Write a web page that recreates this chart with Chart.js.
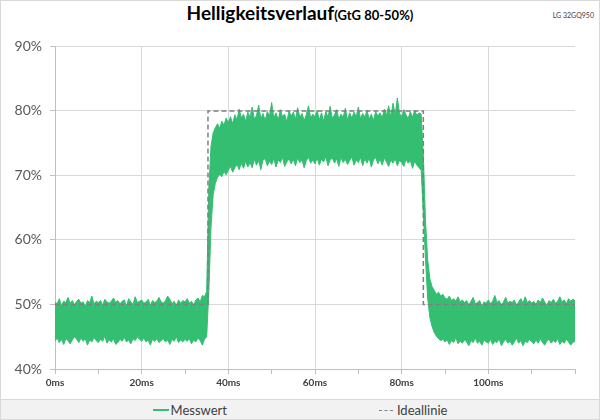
<!DOCTYPE html>
<html>
<head>
<meta charset="utf-8">
<title>Helligkeitsverlauf</title>
<script src="https://cdn.jsdelivr.net/npm/chart.js@4.4.1/dist/chart.umd.min.js"></script>
<style>
  body { margin: 0; background: #fff; font-family: Lato, "Open Sans", sans-serif; }
  #frame { position: relative; width: 600px; height: 420px; overflow: hidden; background: #fff; }
  #title { position: absolute; top: 1px; left: 0; width: 600px; text-align: center; font-weight: bold; color: #000; line-height: 24px; }
  #title .main { font-size: 19px; }
  #title .sub { font-size: 13px; }
  #model { position: absolute; top: 11px; right: 6px; font-size: 7px; color: #404040; }
  #plot { position: absolute; left: 0; top: 30px; width: 600px; height: 368px; }
  #legend { position: absolute; left: 0; bottom: 0; width: 600px; height: 20px; background: #f2f2f2; border-top: 1px solid #d9d9d9;
            display: flex; justify-content: center; align-items: center; gap: 152px; font-size: 13px; color: #404040; }
  #legend .item { display: flex; align-items: center; }
  #legend .mess { display: inline-block; width: 16px; height: 2px; background: rgb(52,190,114); margin-right: 2px; }
  #legend .ideal { display: inline-block; width: 14px; border-top: 1.5px dashed #7f7f7f; margin-right: 4px; }
  #border { position: absolute; left: 0; top: 0; right: 0; bottom: 0; border: 1px solid #d9d9d9; pointer-events: none; }
</style>
</head>
<body>
<div id="frame">
  <div id="title"><span class="main">Helligkeitsverlauf</span><span class="sub">(GtG 80-50%)</span></div>
  <div id="model">LG 32GQ950</div>
  <div id="plot"><canvas id="chart" width="600" height="368"></canvas></div>
  <div id="legend">
    <span class="item"><span class="mess"></span>Messwert</span>
    <span class="item"><span class="ideal"></span>Ideallinie</span>
  </div>
  <div id="border"></div>
</div>
<script>
// sample spacing of the measurement (ms)
const sampleStep = 0.5;

// Messwert: upper edge of the measured band, one value per 0.5 ms (0 .. 120 ms)
const messwertMax = [
  50.4, 50.1, 50.9, 49.8, 50.5, 50.3, 51.1, 50.2, 50.6, 49.9,
  50.5, 50.8, 50.2, 50.4, 49.7, 50.6, 50.3, 51.3, 50.1, 50.5,
  50.3, 50.6, 49.9, 50.8, 50.4, 50.2, 50.5, 51.0, 50.3, 50.6,
  50.1, 50.5, 50.7, 49.8, 50.9, 50.4, 50.0, 51.2, 50.3, 50.5,
  50.7, 50.2, 50.4, 50.8, 49.9, 50.6, 50.3, 50.5, 51.1, 50.4,
  50.2, 50.6, 51.3, 50.8, 50.1, 50.5, 49.8, 50.7, 50.2, 50.6,
  50.4, 50.9, 50.2, 50.5, 49.9, 50.7, 51.0, 50.4, 51.4, 51.2,
  52.0, 68.0, 74.5, 76.6, 77.4, 78.0, 77.3, 78.4, 77.8, 78.9,
  78.2, 79.1, 78.0, 79.4, 78.6, 80.3, 78.9, 79.5, 78.4, 79.8,
  79.0, 80.6, 78.7, 79.3, 80.9, 78.8, 79.6, 78.5, 79.9, 79.2,
  81.3, 78.9, 79.7, 78.6, 80.2, 79.1, 79.5, 78.3, 80.0, 79.2,
  79.8, 78.7, 80.5, 79.0, 79.6, 78.5, 79.4, 80.8, 78.9, 79.5,
  79.1, 80.1, 78.6, 79.7, 78.4, 79.9, 79.0, 80.7, 78.8, 79.4,
  80.2, 78.7, 79.5, 79.0, 80.4, 78.6, 79.7, 78.9, 79.8, 79.1,
  80.6, 78.8, 79.6, 79.0, 80.1, 78.7, 79.5, 78.5, 79.9, 79.2,
  79.7, 78.9, 80.3, 79.3, 80.8, 79.0, 81.2, 79.4, 82.0, 79.6,
  79.1, 80.2, 79.4, 78.8, 79.9, 79.0, 80.1, 79.3, 79.7, 79.5,
  73.0, 63.0, 57.0, 54.0, 52.8, 52.2, 51.6, 51.9, 51.3, 51.6,
  51.0, 50.8, 51.3, 50.6, 50.9, 50.5, 51.2, 50.4, 50.7, 50.3,
  50.6, 49.9, 50.5, 51.1, 50.1, 50.3, 50.6, 49.8, 50.4, 50.2,
  50.7, 50.1, 50.5, 51.4, 50.3, 50.6, 49.9, 50.4, 51.1, 50.2,
  50.5, 50.3, 50.7, 49.8, 50.4, 50.9, 50.2, 51.2, 50.3, 50.6,
  50.2, 50.5, 50.0, 50.7, 50.3, 51.0, 50.4, 49.9, 50.6, 50.3,
  50.8, 50.2, 50.5, 51.2, 50.4, 50.7, 50.1, 50.9, 50.5, 50.8,
  50.6
];

// Messwert: lower edge of the measured band
const messwertMin = [
  44.3, 44.8, 44.1, 44.6, 43.8, 44.7, 44.4, 43.9, 44.5, 45.0,
  44.6, 44.1, 44.8, 44.3, 44.7, 43.7, 44.5, 44.2, 44.9, 44.4,
  44.1, 44.6, 44.3, 45.1, 44.0, 44.5, 44.2, 44.7, 43.8, 44.1,
  44.6, 44.3, 44.9, 44.2, 44.5, 43.9, 44.7, 44.4, 45.0, 44.6,
  44.3, 44.8, 44.2, 44.5, 43.7, 44.6, 44.3, 44.7, 44.1, 44.4,
  44.7, 44.2, 44.5, 43.8, 44.6, 44.3, 45.0, 44.1, 44.5, 44.2,
  44.6, 44.3, 44.7, 43.9, 44.5, 44.2, 44.8, 44.4, 43.7, 44.6,
  45.0, 52.0, 62.0, 67.0, 68.8, 69.7, 70.2, 69.8, 70.6, 70.1,
  70.8, 71.4, 70.5, 71.2, 71.7, 70.9, 71.9, 71.1, 72.2, 71.3,
  72.0, 71.2, 72.5, 71.6, 72.3, 70.9, 72.4, 72.6, 71.5, 72.2,
  71.7, 72.6, 71.3, 72.4, 72.0, 72.8, 71.4, 72.1, 72.6, 71.8,
  72.5, 71.5, 72.7, 72.0, 72.4, 71.2, 72.3, 72.8, 71.9, 72.4,
  71.8, 72.7, 71.6, 72.5, 72.1, 72.9, 71.5, 72.4, 72.7, 71.9,
  72.6, 71.4, 72.8, 72.0, 72.5, 71.7, 72.3, 72.9, 71.6, 72.4,
  72.0, 72.8, 71.5, 72.6, 71.9, 72.7, 71.3, 72.4, 72.8, 71.8,
  72.5, 71.6, 72.7, 72.1, 71.4, 72.4, 71.9, 72.6, 71.5, 72.3,
  72.0, 71.4, 72.5, 71.9, 72.3, 71.1, 72.2, 71.6, 71.2, 70.8,
  64.0, 57.0, 51.0, 48.0, 46.6, 45.7, 45.1, 44.7, 44.4, 44.6,
  44.2, 44.5, 43.8, 44.4, 44.1, 44.9, 43.9, 44.3, 44.0, 44.5,
  44.2, 43.6, 44.4, 44.1, 44.8, 44.0, 44.3, 43.7, 44.5, 44.2,
  44.0, 44.6, 43.8, 44.3, 44.1, 44.7, 43.6, 44.2, 44.6, 44.0,
  44.3, 43.7, 44.2, 44.8, 44.0, 44.4, 43.6, 44.3, 44.1, 44.6,
  44.2, 43.9, 44.5, 44.0, 44.7, 44.1, 43.7, 44.3, 44.6, 44.0,
  44.4, 44.1, 44.7, 43.8, 44.3, 44.0, 44.6, 44.2, 43.7, 44.1,
  44.3
];

// Ideallinie
const idealTimes = [0, 35.3, 35.3, 85, 85, 120];
const idealLevels = [50, 50, 80, 80, 50, 50];

// tick labels
const xLabelTimes = [0, 20, 40, 60, 80, 100];
const xGridTimes = [20, 40, 60, 80, 100];

const green = 'rgb(52,190,114)';

const toPoints = arr => arr.map((v, i) => ({ x: i * sampleStep, y: v }));

var ctx = document.getElementById('chart').getContext('2d');

var chart = new Chart(ctx, {
    type: 'line',
    data: {
        datasets: [{
            label: 'Ideallinie',
            data: idealTimes.map((t, i) => ({ x: t, y: idealLevels[i] })),
            borderColor: '#7f7f7f',
            borderWidth: 1.5,
            borderDash: [5, 3],
            pointRadius: 0,
            fill: false
        }, {
            label: 'Messwert',
            data: toPoints(messwertMax),
            borderColor: green,
            backgroundColor: green,
            borderWidth: 1,
            pointRadius: 0,
            fill: '+1'
        }, {
            label: 'Messwert min',
            data: toPoints(messwertMin),
            borderColor: green,
            borderWidth: 1,
            pointRadius: 0,
            fill: false
        }]
    },
    options: {
        responsive: false,
        animation: false,
        layout: { padding: { left: 1, right: 25, top: 16, bottom: 0 } },
        plugins: {
            legend: { display: false },
            tooltip: { enabled: false }
        },
        scales: {
            x: {
                type: 'linear',
                min: 0,
                max: 120,
                afterFit: s => { s.height = 29; },
                ticks: {
                    stepSize: 10,
                    autoSkip: false,
                    maxRotation: 0,
                    padding: 3,
                    color: '#404040',
                    font: { family: 'Lato', size: 10, weight: 'bold' },
                    callback: v => xLabelTimes.includes(v) ? v + 'ms' : ''
                },
                grid: {
                    color: c => (c.tick && xGridTimes.includes(c.tick.value)) ? '#d9d9d9' : 'rgba(0,0,0,0)',
                    tickColor: '#bfbfbf',
                    tickLength: 5
                },
                border: { color: '#bfbfbf' }
            },
            y: {
                min: 40,
                max: 90,
                afterFit: s => { s.width = 54; },
                ticks: {
                    stepSize: 10,
                    padding: 8,
                    color: '#595959',
                    font: { family: 'Lato', size: 14 },
                    callback: v => v + '%'
                },
                grid: {
                    color: '#d9d9d9',
                    tickColor: '#bfbfbf',
                    tickLength: 5
                },
                border: { color: '#bfbfbf' }
            }
        }
    }
});
</script>
</body>
</html>
